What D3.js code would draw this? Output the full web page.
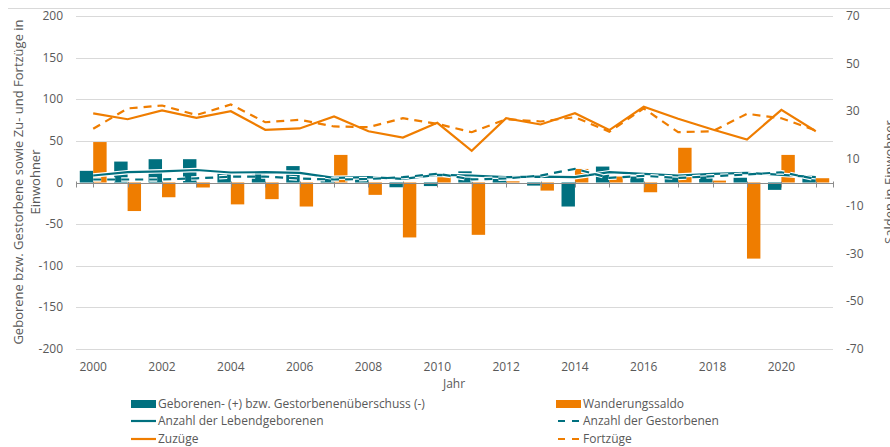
<!DOCTYPE html>
<html>
<head>
<meta charset="utf-8">
<script src="https://cdn.jsdelivr.net/npm/d3@7"></script>
<style>
  body { margin: 0; background: #fff; }
  svg text { font-family: 'Open Sans', sans-serif; fill: #595959; }
</style>
</head>
<body>
<div class="chart"></div>
<script>
'use strict'
const years = d3.range(2000, 2022)
const yearLabels = years.filter(function (y) { return y % 2 === 0 })
const leftTicks = [200, 150, 100, 50, 0, -50, -100, -150, -200]
const rightTicks = [70, 50, 30, 10, -10, -30, -50, -70]

// Salden (rechte Achse)
const ueberschuss = [4.9, 8.8, 9.8, 9.8, 4.9, 4.3, 6.9, 2.0, 2.2, -2.0, -1.5, 4.7, 1.5, -1.3, -10.1, 6.7, 2.5, 2.9, 2.9, 2.0, -3.1, 2.2]
const wanderung = [17, -12, -6.2, -2.1, -9.2, -7, -10.1, 11.6, -5.2, -23.1, 3, -22, 0.5, -3.4, 5.7, 2.5, -4.1, 14.6, 0.8, -32, 11.6, 1.8]
// Anzahlen (linke Achse)
const geborene = [8.4, 12.4, 13.4, 15, 12, 12.4, 11.6, 5.6, 6.4, 4.4, 9.2, 8.4, 6.4, 7, 6.4, 12.4, 10.4, 8.4, 10.4, 11.6, 9.2, 6.4]
const gestorbene = [3.6, 3.6, 3.6, 5, 7, 7.2, 4.7, 3.6, 4.2, 6.4, 10.5, 3.7, 4.9, 8.3, 16.4, 5.6, 8, 5.5, 7.5, 9.6, 12.3, 4.2]
const zuzuege = [83, 76, 86.5, 77.7, 85.6, 63.3, 64.9, 79.3, 61.6, 54, 71.7, 38, 77.2, 69.7, 83.2, 63, 91, 76.5, 63.7, 51.6, 87.3, 61.6]
const fortzuege = [64.5, 89, 92.5, 81, 93.7, 72.4, 75.3, 67.3, 66.4, 77.2, 70.5, 60.4, 76, 73.3, 78.5, 61, 89, 60.4, 61.6, 82.5, 77.2, 62.5]

const teal = '#00707f'
const orange = '#ef7d00'
const width = 890
const height = 447

const svg = d3.select('.chart').append('svg')
  .attr('width', width)
  .attr('height', height)

const x = d3.scaleBand().domain(years).range([76, 833])
const yL = d3.scaleLinear().domain([-200, 200]).range([349, 16])
const yR = d3.scaleLinear().domain([-70, 70]).range([349, 16])
const cx = function (y) { return x(y) + x.bandwidth() / 2 }
const bw = x.bandwidth() * 0.39

// frame line on top
svg.append('line')
  .attr('x1', 8).attr('x2', width).attr('y1', 8.5).attr('y2', 8.5)
  .attr('stroke', '#d9d9d9')

// gridlines
svg.append('g').selectAll('line')
  .data(leftTicks.filter(function (d) { return d !== 0 }))
  .enter().append('line')
  .attr('x1', 76).attr('x2', 833)
  .attr('y1', function (d) { return Math.round(yL(d)) + 0.5 })
  .attr('y2', function (d) { return Math.round(yL(d)) + 0.5 })
  .attr('stroke', '#d9d9d9')

// left tick labels
svg.append('g').selectAll('text')
  .data(leftTicks)
  .enter().append('text')
  .attr('x', 63)
  .attr('y', function (d) { return yL(d) + 4 })
  .attr('text-anchor', 'end')
  .style('font-size', '12px')
  .text(function (d) { return d })

// right tick labels
svg.append('g').selectAll('text')
  .data(rightTicks)
  .enter().append('text')
  .attr('x', 846)
  .attr('y', function (d) { return yR(d) + 4 })
  .style('font-size', '12px')
  .text(function (d) { return d })

// bars
svg.append('g').selectAll('rect')
  .data(years)
  .enter().append('rect')
  .attr('x', function (d) { return cx(d) - bw })
  .attr('width', bw)
  .attr('y', function (d, i) { return Math.min(yR(ueberschuss[i]), yR(0)) })
  .attr('height', function (d, i) { return Math.abs(yR(ueberschuss[i]) - yR(0)) })
  .attr('fill', teal)

svg.append('g').selectAll('rect')
  .data(years)
  .enter().append('rect')
  .attr('x', function (d) { return cx(d) })
  .attr('width', bw)
  .attr('y', function (d, i) { return Math.min(yR(wanderung[i]), yR(0)) })
  .attr('height', function (d, i) { return Math.abs(yR(wanderung[i]) - yR(0)) })
  .attr('fill', orange)

// x axis line and ticks
const y0 = Math.round(yL(0)) + 0.5
svg.append('line')
  .attr('x1', 76).attr('x2', 833).attr('y1', y0).attr('y2', y0)
  .attr('stroke', '#8c8c8c')
svg.append('g').selectAll('line')
  .data(years.map(cx).concat([76, 833]))
  .enter().append('line')
  .attr('x1', function (d) { return Math.round(d) + 0.5 })
  .attr('x2', function (d) { return Math.round(d) + 0.5 })
  .attr('y1', y0 - 2).attr('y2', y0 + 4)
  .attr('stroke', '#8c8c8c')

// lines
const lineL = function (values) {
  return d3.line()
    .x(function (d, i) { return cx(years[i]) })
    .y(function (d) { return yL(d) })(values)
}

const series = [
  { values: geborene, color: teal, dash: null, halo: true },
  { values: gestorbene, color: teal, dash: '8,6', halo: true },
  { values: zuzuege, color: orange, dash: null, halo: false },
  { values: fortzuege, color: orange, dash: '8,6', halo: false }
]

series.forEach(function (s) {
  if (s.halo) {
    svg.append('path')
      .attr('d', lineL(s.values))
      .attr('fill', 'none')
      .attr('stroke', '#fff')
      .attr('stroke-width', 4.5)
      .attr('stroke-dasharray', s.dash)
  }
  svg.append('path')
    .attr('d', lineL(s.values))
    .attr('fill', 'none')
    .attr('stroke', s.color)
    .attr('stroke-width', 2.2)
    .attr('stroke-dasharray', s.dash)
})

// x labels
svg.append('g').selectAll('text')
  .data(yearLabels)
  .enter().append('text')
  .attr('x', function (d) { return cx(d) })
  .attr('y', 371)
  .attr('text-anchor', 'middle')
  .style('font-size', '12px')
  .text(function (d) { return d })

svg.append('text')
  .attr('x', 454).attr('y', 388)
  .attr('text-anchor', 'middle')
  .style('font-size', '12px')
  .text('Jahr')

// axis titles
const leftTitle = svg.append('text')
  .attr('transform', 'translate(23,182) rotate(-90)')
  .attr('text-anchor', 'middle')
  .style('font-size', '13px')
leftTitle.append('tspan').attr('x', 0).attr('dy', 0)
  .text('Geborene bzw. Gestorbene sowie Zu- und Fortzüge in')
leftTitle.append('tspan').attr('x', 0).attr('dy', 17)
  .text('Einwohner')

svg.append('text')
  .attr('transform', 'translate(894,182) rotate(-90)')
  .attr('text-anchor', 'middle')
  .style('font-size', '13px')
  .text('Salden in Einwohner')

// legend
const legend = [
  { x: 131, row: 0, type: 'rect', color: teal, label: 'Geborenen- (+) bzw. Gestorbenenüberschuss (-)' },
  { x: 556, row: 0, type: 'rect', color: orange, label: 'Wanderungssaldo' },
  { x: 131, row: 1, type: 'line', color: teal, label: 'Anzahl der Lebendgeborenen' },
  { x: 556, row: 1, type: 'dash', color: teal, label: 'Anzahl der Gestorbenen' },
  { x: 131, row: 2, type: 'line', color: orange, label: 'Zuzüge' },
  { x: 556, row: 2, type: 'dash', color: orange, label: 'Fortzüge' }
]
const rowY = [404, 421, 439]

const items = svg.append('g').selectAll('g')
  .data(legend)
  .enter().append('g')
  .attr('transform', function (d) { return 'translate(' + d.x + ',' + rowY[d.row] + ')' })

items.filter(function (d) { return d.type === 'rect' }).append('rect')
  .attr('x', 0).attr('y', -4).attr('width', 25).attr('height', 8)
  .attr('fill', function (d) { return d.color })
items.filter(function (d) { return d.type !== 'rect' }).append('line')
  .attr('x1', 0).attr('x2', 25).attr('y1', 0).attr('y2', 0)
  .attr('stroke', function (d) { return d.color })
  .attr('stroke-width', 2.2)
  .attr('stroke-dasharray', function (d) { return d.type === 'dash' ? '7,7' : null })
  .attr('stroke-dashoffset', function (d) { return d.type === 'dash' ? -2 : null })
items.append('text')
  .attr('x', 27).attr('y', 4)
  .style('font-size', '12px')
  .text(function (d) { return d.label })
</script>
</body>
</html>
